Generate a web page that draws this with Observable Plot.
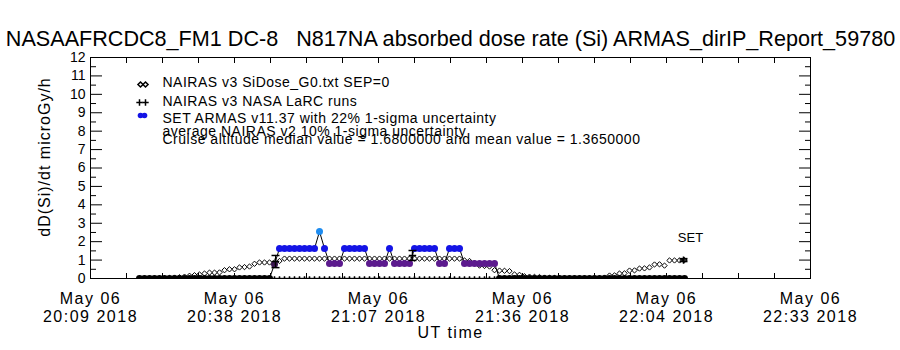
<!DOCTYPE html>
<html><head><meta charset="utf-8">
<script src="https://cdn.jsdelivr.net/npm/d3@7"></script>
<script src="https://cdn.jsdelivr.net/npm/@observablehq/plot@0.6"></script>
<style>
body{margin:0;background:#fff}
svg{display:block}
svg text{white-space:pre}
g[aria-label="x-axis tick label"] text{letter-spacing:1.5px}
</style>
</head><body><div id="chart"></div>
<script>
// ---------- text ----------
const titleText = "NASAAFRCDC8_FM1 DC-8   N817NA absorbed dose rate (Si) ARMAS_dirIP_Report_59780";
const yLabel = "dD(Si)/dt microGy/h";
const xLabel = "UT time";
const legendLabels = ["NAIRAS v3 SiDose_G0.txt SEP=0", "NAIRAS v3 NASA LaRC runs", "SET ARMAS v11.37 with 22% 1-sigma uncertainty"];
const noteLines = ["average NAIRAS v2 10% 1-sigma uncertainty", "Cruise altitude median value = 1.6800000 and mean value = 1.3650000"];
const seriesTag = "SET";

// ---------- axes ----------
const axisStart = "2018-05-06T20:09:40Z";
const axisEnd = "2018-05-06T22:33:40Z";
const xTickLabels = ["May 06\n20:09 2018", "May 06\n20:38 2018", "May 06\n21:07 2018", "May 06\n21:36 2018", "May 06\n22:04 2018", "May 06\n22:33 2018"];
const yTickValues = [0,1,2,3,4,5,6,7,8,9,10,11,12];
const yMinorValues = [0.5,1.5,2.5,3.5,4.5,5.5,6.5,7.5,8.5,9.5,10.5,11.5];

// ---------- data: one sample per minute from gridStart ----------
const gridStart = "2018-05-06T20:19:28Z";
const nairasSiDose = [
  0,0,0,0,
  0.01,0.02,0.03,0.05,0.07,0.10,
  0.15,0.18,0.22,0.27,0.32,0.32,0.33,
  0.45,0.50,0.50,0.60,0.62,0.65,
  0.80,0.87,0.87,0.87,0.87,0.95,
  1.08,1.08,1.08,1.08,1.08,1.08,1.08,1.08,1.08,1.08,1.08,1.08,
  1.08,1.08,1.08,1.08,1.08,1.08,1.08,1.08,1.08,1.08,1.08,1.08,
  1.08,1.08,1.08,1.08,1.08,1.08,1.08,1.08,1.08,1.08,1.08,1.08,
  0.98,0.95,0.85,0.70,0.68,0.65,0.45,0.43,0.42,0.40,0.22,0.20,0.12,0.10,0.09,0.08,0.05,0.04,0.03,0.02,
  0,0,0,0,0,0,0,
  0.02,0.05,0.16,0.17,0.27,0.28,0.43,0.44,0.54,0.55,0.60,0.76,0.77,0.70,0.98,0.98,0.98,1.00
];
const armasSET = [
  0,0,0,0,0,0,0,0,0,0,0,0,0,0,0,0,0,0,0,0,0,0,0,0,0,0,0,
  0.78,
  1.63,1.63,1.63,1.63,1.63,1.63,1.63,1.63,
  2.55,
  1.63,
  0.82,0.82,0.82,
  1.63,1.63,1.63,1.63,1.63,
  0.82,0.82,0.82,0.82,
  1.63,
  0.82,0.82,0.82,0.82,
  1.63,1.63,1.63,1.63,1.63,
  0.82,0.82,
  1.63,1.63,1.63,
  0.82,0.82,0.82,0.82,0.82,0.82,0.82,
  0,0,0,0,0,0,0,0,0,0,0,0,0,0,0,0,0,0,0,0,0,0,0,0,0,0,0,0,0,0,0,0,0,0,0,0,0,0
];
const larcBaseline = [
  0,0,0,0,0,0,0,0,0,0,0,0,0,0,0,0,0,0,0,0,0,0,0,0,0,0,0,0,0,0,0,0,0,0,0,0,0,
  0,0,0,0,0,0,0,0,0,0,0,0,0,0,0,0,0,0,0,0,0,0,0,0,0,0,0,0,0,0,0,0,0,0,0,0,0,
  0,0,0,0,0,0,0,0,0,0,0,0,0,0,0,0,0,0,0,0,0,0,0,0,0,0,0,0,0,0,0,0,0,0,0,0
];
// NAIRAS v3 NASA LaRC runs with uncertainty
const larcTimes = ["2018-05-06T20:46:40Z", "2018-05-06T21:14:04Z", "2018-05-06T22:08:16Z"];
const larcValues = [0.92, 1.25, 1.00];
const larcErrors = [0.33, 0.27, 0.08];

// ---------- build tables ----------
const t0 = new Date(gridStart);
const series = nairasSiDose.map((v, i) => ({
  time: d3.utcMinute.offset(t0, i),
  nairas: v,
  armas: armasSET[i],
  larc0: larcBaseline[i]
}));
const larc = larcTimes.map((t, i) => ({time: new Date(t), value: larcValues[i], lo: larcValues[i] - larcErrors[i], hi: larcValues[i] + larcErrors[i]}));
const lastPoint = [series[series.length - 1]];

const xs = new Date(axisStart), xe = new Date(axisEnd);
const labelTicks = xTickLabels.map((_, i) => new Date(+xs + i * (xe - xs) / (xTickLabels.length - 1)));
const minorTicks = d3.range((xTickLabels.length - 1) * 4 + 1).map(i => new Date(+xs + i * (xe - xs) / ((xTickLabels.length - 1) * 4)));
const labelFor = d => xTickLabels[labelTicks.findIndex(t => Math.abs(+t - +d) < 1000)] ?? "";

const hbar = {draw(ctx, size) { const w = 4; ctx.moveTo(-w, 0); ctx.lineTo(w, 0); }};

const F = 72; // legend text offset from frame left
const legendText = {frameAnchor: "top-left", dx: F, text: d => d, textAnchor: "start", lineAnchor: "middle", fontSize: 14};
const legendMarks = [
  Plot.dot([0], {frameAnchor: "top-left", dx: 50, dy: 27, symbol: "diamond2", r: 2.3, stroke: "black", fill: "none"}),
  Plot.dot([0], {frameAnchor: "top-left", dx: 55, dy: 27, symbol: "diamond2", r: 2.3, stroke: "black", fill: "none"}),
  Plot.dot([0], {frameAnchor: "top-left", dx: 49, dy: 45, symbol: "plus", r: 2.2, stroke: "black"}),
  Plot.dot([0], {frameAnchor: "top-left", dx: 55, dy: 45, symbol: "plus", r: 2.2, stroke: "black"}),
  Plot.dot([0], {frameAnchor: "top-left", dx: 50, dy: 58, r: 2.8, fill: "#1414e6"}),
  Plot.dot([0], {frameAnchor: "top-left", dx: 54, dy: 58, r: 2.8, fill: "#1414e6"}),
  Plot.text([legendLabels[0]], {...legendText, dy: 25}),
  Plot.text([legendLabels[1]], {...legendText, dy: 44}),
  Plot.text([legendLabels[2]], {...legendText, dy: 61}),
  Plot.text([noteLines[0]], {...legendText, dy: 74}),
  Plot.text([noteLines[1]], {...legendText, dy: 82})
];

const chart = Plot.plot({
  width: 900,
  height: 350,
  marginTop: 57,
  marginBottom: 72,
  marginLeft: 90,
  marginRight: 90,
  style: {fontFamily: "'Liberation Sans', sans-serif", fontSize: "14px", background: "white", color: "black"},
  x: {type: "utc", domain: [xs, xe]},
  y: {domain: [0, 12]},
  color: {type: "threshold", domain: [0.3, 0.8, 1.2, 2.0], range: ["black", "#3b1650", "#5c1a8e", "#1414e6", "#1e8cf0"]},
  marks: [
    Plot.frame({stroke: "black"}),
    // axes
    Plot.axisX(labelTicks, {anchor: "bottom", tickSize: 0, tickPadding: 12, tickFormat: labelFor, fontSize: 16, lineHeight: 1.15, label: null}),
    Plot.axisX(minorTicks, {anchor: "bottom", tickSize: -5, tickFormat: () => "", label: null}),
    Plot.axisX(minorTicks, {anchor: "top", tickSize: -5, tickFormat: () => "", label: null}),
    Plot.axisY(yTickValues, {anchor: "left", tickSize: 0, tickPadding: 5, tickFormat: d => String(d), fontSize: 14, label: null}),
    Plot.axisY(yTickValues, {anchor: "left", tickSize: -12, tickFormat: () => "", label: null}),
    Plot.axisY(yMinorValues, {anchor: "left", tickSize: -6, tickFormat: () => "", label: null}),
    Plot.axisY(yTickValues, {anchor: "right", tickSize: -12, tickFormat: () => "", label: null}),
    Plot.axisY(yMinorValues, {anchor: "right", tickSize: -6, tickFormat: () => "", label: null}),
    // data
    Plot.dot(series, {x: "time", y: "larc0", symbol: "plus", r: 1.6, stroke: "black", clip: true}),
    Plot.dot(series, {x: "time", y: "nairas", symbol: "diamond2", r: 2.4, stroke: "black", fill: "none", strokeWidth: 1, clip: true}),
    Plot.line(series, {x: "time", y: "armas", stroke: "black", strokeWidth: 1, clip: true}),
    Plot.dot(series, {x: "time", y: "armas", r: 3.5, fill: "armas", clip: true}),
    Plot.ruleX(larc, {x: "time", y1: "lo", y2: "hi", stroke: "black"}),
    Plot.dot(larc, {x: "time", y: "lo", symbol: hbar, stroke: "black"}),
    Plot.dot(larc, {x: "time", y: "hi", symbol: hbar, stroke: "black"}),
    Plot.dot(larc, {x: "time", y: "value", symbol: "plus", r: 2.5, stroke: "black"}),
    Plot.text(lastPoint, {x: "time", y: "armas", text: () => seriesTag, dx: 6, dy: -41, fontSize: 13}),
    // titles
    Plot.text([titleText], {frameAnchor: "top", lineAnchor: "middle", dy: -18, text: d => d, fontSize: 21.6}),
    Plot.text([xLabel], {frameAnchor: "bottom", lineAnchor: "middle", dy: 54, text: d => d, fontSize: 16}),
    Plot.text([yLabel], {frameAnchor: "left", textAnchor: "middle", lineAnchor: "middle", dx: -46, dy: -11, rotate: -90, text: d => d, fontSize: 16}),
    ...legendMarks
  ]
});
// letter spacing tweaks to mimic the wide vector font of the original
const spacing = new Map([
  ...legendLabels.map(s => [s, "0.5px"]),
  ...noteLines.map(s => [s, "0.5px"]),
  [xLabel, "1.5px"],
  [yLabel, "1px"]
]);
d3.select(chart).selectAll("text").each(function() {
  const s = spacing.get(this.textContent);
  if (s) this.style.letterSpacing = s;
});
document.getElementById("chart").appendChild(chart);
</script>
</body></html>
